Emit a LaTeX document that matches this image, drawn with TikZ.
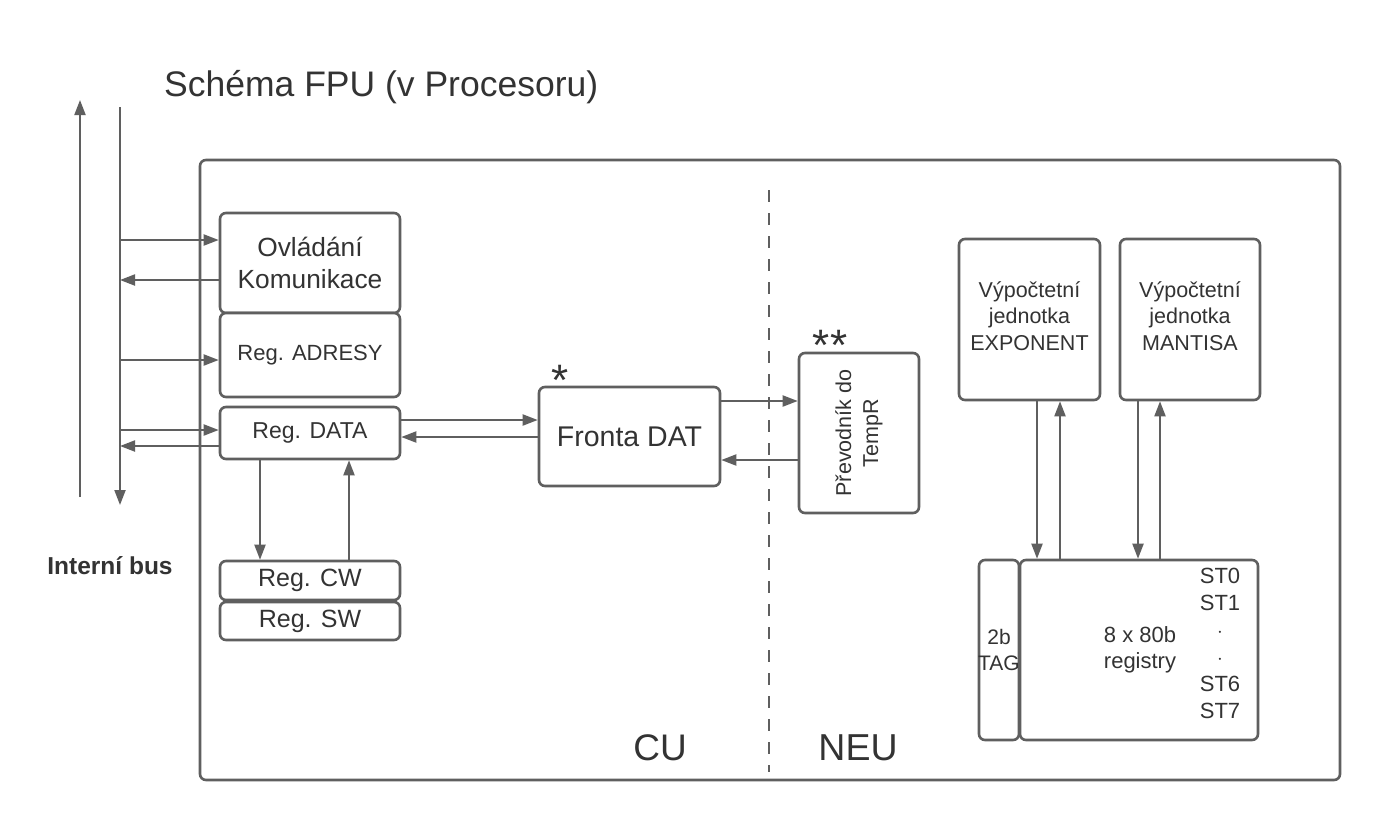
\documentclass[tikz,border=0pt]{standalone}
\usepackage{fontspec}
\setmainfont{Liberation Sans}
\usetikzlibrary{arrows.meta,calc}
\definecolor{lc}{HTML}{5F5F5F}
\definecolor{tc}{HTML}{333333}
\newcommand{\fsz}[2]{\fontsize{#1}{#2}\selectfont}
\begin{document}
\begin{tikzpicture}[x=1pt,y=-1pt,
  box/.style={draw=lc, line width=2.6pt, rounded corners=6pt, fill=white, inner sep=0pt, align=center, text=tc},
  lbl/.style={text=tc, inner sep=0pt, align=center},
  arr/.style={-{Triangle[length=15pt,width=11pt]}, draw=lc, line width=2pt},
  ln/.style={draw=lc, line width=2pt}]
\useasboundingbox[fill=white] (0,0) rectangle (1380,820);
% title
\node[lbl, anchor=base west, font=\fsz{35.5}{40}] (title) at (164,96) {Schéma FPU (v Procesoru)};
% outer box
\node[box, minimum width=1140pt, minimum height=620pt] (outer) at (770,470) {};
% dashed divider
\coordinate (dtop) at (769,190);
\coordinate (dbot) at (769,772);
\draw[draw=lc, line width=2pt, dash pattern=on 12pt off 11pt] (dtop) -- (dbot);
% bus
\coordinate (b1s) at (80,497);
\coordinate (b1e) at (80,100);
\coordinate (b2s) at (120,107);
\coordinate (b2e) at (120,505);
\draw[arr] (b1s) -- (b1e);
\draw[arr] (b2s) -- (b2e);
\node[lbl, font=\bfseries\fsz{24.5}{28}] (busl) at (110,566) {Interní bus};
% left boxes
\node[box, minimum width=180pt, minimum height=100pt, font=\fsz{26.3}{32}] (ovl) at (310,263) {Ovládání\\Komunikace};
\node[box, minimum width=180pt, minimum height=84pt, font=\fsz{22}{26}] (adr) at (310,355) {Reg. ADRESY};
\node[box, minimum width=180pt, minimum height=52pt, font=\fsz{23}{28}] (dat) at (310,433) {Reg. DATA};
\node[box, minimum width=180pt, minimum height=39pt, font=\fsz{25}{28}] (cw) at (310,580.5) {Reg. CW};
\node[box, minimum width=180pt, minimum height=38pt, font=\fsz{25}{28}] (sw) at (310,621) {Reg. SW};
\node[box, minimum width=181pt, minimum height=99pt, font=\fsz{28.5}{32}] (fr) at (629.5,436.5) {Fronta DAT};
\node[box, minimum width=120pt, minimum height=160pt] (pr) at (859,433) {};
\node[lbl, rotate=90, font=\fsz{21.5}{27}] (prt) at (pr.center) {Převodník do\\TempR};
\node[lbl, anchor=base, font=\fsz{44}{48}] (st1) at (560,395) {*};
\node[lbl, anchor=base, font=\fsz{44}{48}] (st2) at (830,360) {**};
% right boxes
\node[box, minimum width=141pt, minimum height=161pt, font=\fsz{21.5}{27}] (exp) at (1029.5,319.5) {};
\node[lbl, font=\fsz{21.5}{26.5}] (expt) at (1029.5,316) {Výpočtetní\\jednotka\\EXPONENT};
\node[box, minimum width=140pt, minimum height=161pt, font=\fsz{21.5}{27}] (man) at (1190,319.5) {};
\node[lbl, font=\fsz{21.5}{26.5}] (mant) at (1190,316) {Výpočtetní\\jednotka\\MANTISA};
\node[box, minimum width=40pt, minimum height=180pt] (tag) at (999,650) {};
\node[lbl, font=\fsz{21}{26}] (tagt) at (999,650) {2b\\TAG};
\node[box, minimum width=238pt, minimum height=180pt] (reg) at (1139,650) {};
\node[lbl, font=\fsz{22}{26}] (regt) at (1140,650) {8 x 80b\\registry};
\node[lbl, font=\fsz{22}{27}] (stt) at (1220,643.5) {ST0\\ST1\\$\cdot$\\$\cdot$\\ST6\\ST7};
% labels CU / NEU
\node[lbl, anchor=base, font=\fsz{37}{40}] (cu) at (660,760) {CU};
\node[lbl, anchor=base, font=\fsz{37.5}{40}] (neu) at (858,760) {NEU};
% bus connections
\draw[arr] (b2s |- 0,240) -- (ovl.west |- 0,240);
\draw[arr] (ovl.west |- 0,280) -- (b2s |- 0,280);
\draw[arr] (b2s |- 0,360) -- (adr.west |- 0,360);
\draw[arr] (b2s |- 0,430) -- (dat.west |- 0,430);
\draw[arr] (dat.west |- 0,446) -- (b2s |- 0,446);
% data <-> fronta
\draw[arr] (dat.east |- 0,420) -- (fr.west |- 0,420);
\draw[arr] (fr.west |- 0,437) -- (dat.east |- 0,437);
% data <-> cw
\draw[arr] (dat.south -| 260,0) -- (cw.north -| 260,0);
\draw[arr] (cw.north -| 349,0) -- (dat.south -| 349,0);
% fronta <-> prevodnik
\draw[arr] (fr.east |- 0,401) -- (pr.west |- 0,401);
\draw[arr] (pr.west |- 0,460) -- (fr.east |- 0,460);
% units <-> registers
\draw[arr] (exp.south -| 1037,0) -- (reg.north -| 1037,0);
\draw[arr] (reg.north -| 1060,0) -- (exp.south -| 1060,0);
\draw[arr] (man.south -| 1138,0) -- (reg.north -| 1138,0);
\draw[arr] (reg.north -| 1160,0) -- (man.south -| 1160,0);
\end{tikzpicture}
\end{document}
